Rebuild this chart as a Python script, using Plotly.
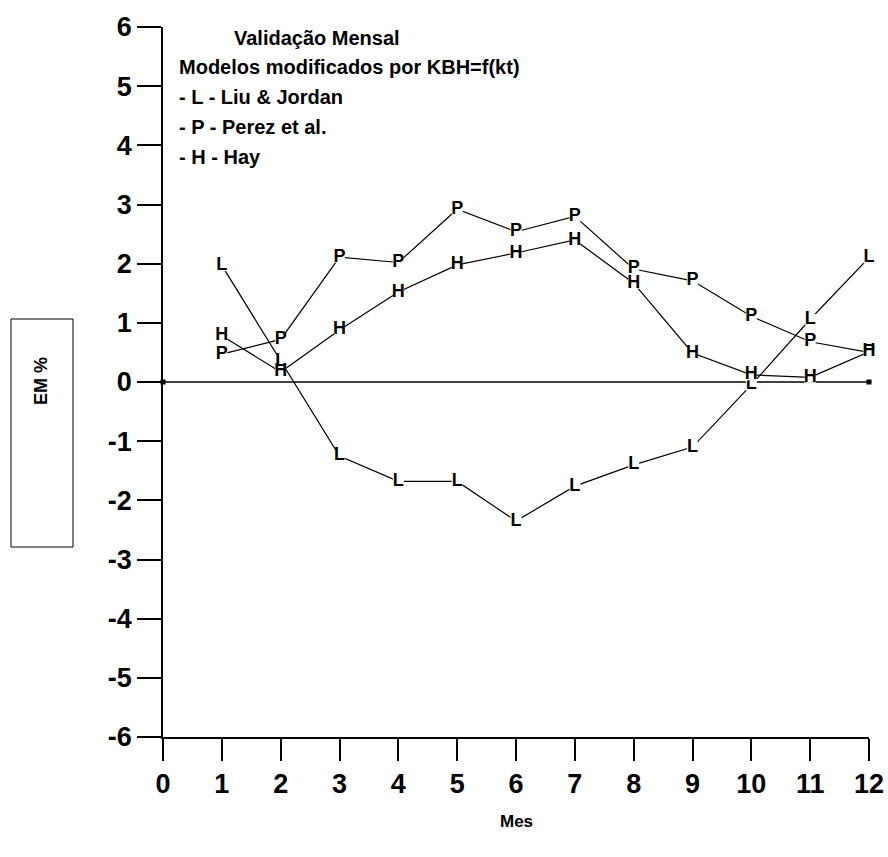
import plotly.graph_objects as go

months = [1, 2, 3, 4, 5, 6, 7, 8, 9, 10, 11, 12]
liu_jordan = [1.97, 0.35, -1.25, -1.68, -1.68, -2.35, -1.76, -1.40, -1.10, -0.05, 1.06, 2.10]
perez = [0.47, 0.72, 2.11, 2.02, 2.92, 2.54, 2.80, 1.91, 1.71, 1.11, 0.68, 0.50]
hay = [0.78, 0.17, 0.88, 1.52, 1.98, 2.18, 2.40, 1.67, 0.49, 0.12, 0.08, 0.51]
zero_x = [0, 12]
zero_y = [0, 0]
x_ticks = list(range(0, 13))
y_ticks = list(range(-6, 7))
y_ticktext = [str(v) for v in y_ticks]

FONT = "Arial, Liberation Sans, sans-serif"

fig = go.Figure()

fig.add_trace(go.Scatter(
    x=zero_x, y=zero_y, mode="lines+markers",
    line=dict(color="black", width=1.5),
    marker=dict(symbol="square", size=5, color="black"),
    cliponaxis=False, showlegend=False, hoverinfo="skip"))

for name, ys, letter in [("Liu & Jordan", liu_jordan, "L"),
                         ("Perez et al.", perez, "P"),
                         ("Hay", hay, "H")]:
    fig.add_trace(go.Scatter(
        x=months, y=ys, name=name, mode="lines+markers+text",
        text=[letter] * len(months), textposition="middle center",
        textfont=dict(family=FONT, size=18, color="black", weight="bold"),
        line=dict(color="black", width=1.2),
        marker=dict(symbol="square", size=11, color="white",
                    line=dict(width=0)),
        cliponaxis=False, showlegend=False))

fig.update_layout(
    width=888, height=857,
    margin=dict(l=163, r=19, t=27, b=120),
    paper_bgcolor="white", plot_bgcolor="white",
    font=dict(family=FONT, color="black"),
    xaxis=dict(range=[0, 12], tickvals=x_ticks, showgrid=False, zeroline=False,
               automargin=False,
               showline=True, linecolor="black", linewidth=1.5,
               ticks="outside", ticklen=22, tickwidth=1.5, tickcolor="black",
               tickfont=dict(family=FONT, size=27, color="black", weight="bold")),
    yaxis=dict(range=[-6, 6], tickvals=y_ticks, ticktext=y_ticktext,
               showgrid=False, zeroline=False, automargin=False,
               showline=True, linecolor="black", linewidth=1.5,
               ticks="outside", ticklen=24, tickwidth=1.5, tickcolor="black",
               tickfont=dict(family=FONT, size=27, color="black", weight="bold")),
)

def px_x(p):
    return (p - 163) / 706.0

def px_y(p):
    return (737 - p) / 710.0

title_lines = [
    ("Validação Mensal", 232, 38),
    ("Modelos modificados por KBH=f(kt)", 177, 67),
    ("- L - Liu & Jordan", 177, 97),
    ("- P - Perez et al.", 177, 127),
    ("- H - Hay", 177, 157),
]
for txt, lx, ly in title_lines:
    fig.add_annotation(text=txt, xref="paper", yref="paper",
                       x=px_x(lx), y=px_y(ly), xanchor="left", yanchor="middle",
                       showarrow=False,
                       font=dict(family=FONT, size=20, color="black", weight="bold"))

fig.add_shape(type="rect", xref="paper", yref="paper",
              x0=px_x(11), x1=px_x(73), y0=px_y(547), y1=px_y(319),
              line=dict(color="black", width=1), fillcolor="rgba(0,0,0,0)")
fig.add_annotation(text="EM %", xref="paper", yref="paper",
                   x=px_x(41), y=px_y(381), textangle=-90,
                   xanchor="center", yanchor="middle", showarrow=False,
                   font=dict(family=FONT, size=18, color="black", weight="bold"))
fig.add_annotation(text="Mes", xref="paper", yref="paper",
                   x=px_x(516), y=px_y(821), xanchor="center", yanchor="middle",
                   showarrow=False,
                   font=dict(family=FONT, size=17, color="black", weight="bold"))

fig.write_html("out.html")
